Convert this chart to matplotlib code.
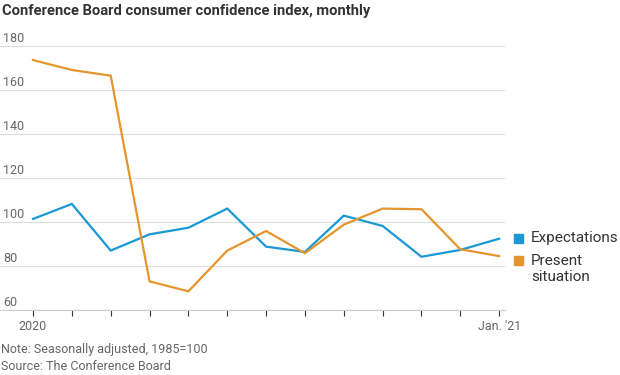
import matplotlib
matplotlib.use('Agg')
import matplotlib.pyplot as pyplot

months = list(range(13))
x_labels = {0: '2020', 12: "Jan. '21"}
expectations = [101.4, 108.2, 87.0, 94.4, 97.4, 106.1, 88.8, 86.4, 102.9, 98.2, 84.2, 87.3, 92.4]
present = [173.6, 169.1, 166.5, 73.0, 68.5, 87.0, 95.9, 85.8, 98.8, 106.1, 105.8, 87.6, 84.5]
y_ticks = [60, 80, 100, 120, 140, 160, 180]

blue = '#1a98d5'
orange = '#e6952c'
grey = '#666666'
font = 'Roboto'

fig = pyplot.figure()
fig.set_size_inches(6.2, 3.75)
ax = fig.add_axes([0, 65 / 375, 505 / 620, 264 / 375])

ax.plot(months, expectations, color=blue, lw=1.6, solid_joinstyle='miter')
ax.plot(months, present, color=orange, lw=1.6, solid_joinstyle='miter')

ax.set_xlim(-0.85, 12.15)
ax.set_ylim(60, 180)
for side in ['top', 'right', 'left']:
	ax.spines[side].set_visible(False)
ax.spines['bottom'].set_color('#cccccc')
ax.set_yticks(y_ticks)
ax.set_yticklabels([])
ax.tick_params(axis='y', length=0)
ax.grid(axis='y', color='#dddddd', lw=0.8)
ax.set_axisbelow(True)
for v in y_ticks:
	ax.annotate(str(v), xy=(0, v), xycoords=('axes fraction', 'data'), xytext=(2, 1),
		textcoords='offset points', fontsize=9, color=grey, family=font, va='bottom', ha='left')

ax.set_xticks(months)
ax.set_xticklabels([x_labels.get(m, '') for m in months], fontsize=9, color=grey, family=font)
ax.tick_params(axis='x', length=4, width=0.8, color='#333333', pad=3)

# legend
fig.patches.append(pyplot.Rectangle((514 / 620, 1 - 243 / 375), 9 / 620, 9 / 375, transform=fig.transFigure, color=blue, figure=fig))
fig.patches.append(pyplot.Rectangle((514 / 620, 1 - 265 / 375), 9 / 620, 9 / 375, transform=fig.transFigure, color=orange, figure=fig))
fig.text(531 / 620, 1 - 238 / 375, 'Expectations', fontsize=11, color='#333333', family=font, va='center')
fig.text(531 / 620, 1 - 269 / 375, 'Present\nsituation', fontsize=11, color='#333333', family=font, va='center', linespacing=1.1)

fig.text(2 / 620, 1 - 11 / 375, 'Conference Board consumer confidence index, monthly', fontsize=10.6,
	fontweight='bold', color='#333333', family=font, va='center')
fig.text(1 / 620, 1 - 350 / 375, 'Note: Seasonally adjusted, 1985=100', fontsize=9, color=grey, family=font, va='center')
fig.text(1 / 620, 1 - 367 / 375, 'Source: The Conference Board', fontsize=9, color=grey, family=font, va='center')

fig.savefig('out.png', dpi=100)
